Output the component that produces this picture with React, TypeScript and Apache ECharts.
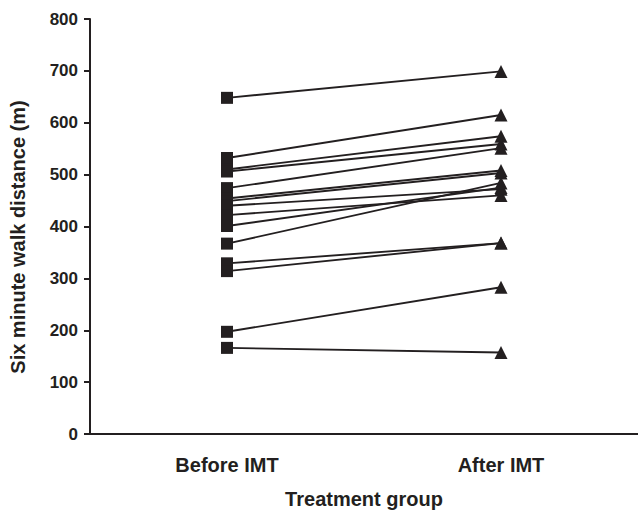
import React, { useEffect, useRef } from "react";
import * as echarts from "echarts";

const categories = ["Before IMT", "After IMT"];
const beforeIMT = [648, 532, 510, 506, 474, 454, 449, 440, 422, 401, 367, 329, 314, 197, 166];
const afterIMT = [699, 615, 574, 559, 551, 508, 503, 472, 460, 475, 484, 368, 368, 283, 157];
const yTicks = { min: 0, max: 800, interval: 100 };
const yTitle = "Six minute walk distance (m)";
const xTitle = "Treatment group";

const INK = "#231f20";
const FONT = "'Liberation Sans', Arial, Helvetica, sans-serif";

export default function App() {
  const ref = useRef<HTMLDivElement>(null);
  useEffect(() => {
    if (!ref.current) return;
    const chart = echarts.init(ref.current, undefined, { renderer: "svg" });
    const series = beforeIMT.map((b, i) => ({
      type: "line",
      data: [
        { value: b, symbol: "rect", symbolSize: 12 },
        { value: afterIMT[i], symbol: "triangle", symbolSize: 13 },
      ],
      lineStyle: { color: INK, width: 1.9 },
      itemStyle: { color: INK },
      showAllSymbol: true,
      z: 2,
    }));
    chart.setOption({
      animation: false,
      backgroundColor: "#ffffff",
      grid: { left: 90, right: 0, top: 19, bottom: 77, containLabel: false },
      xAxis: {
        type: "category",
        data: categories,
        boundaryGap: true,
        name: xTitle,
        nameLocation: "middle",
        nameGap: 55,
        nameTextStyle: { fontSize: 20, fontWeight: "bold", color: INK, fontFamily: FONT },
        axisLine: { lineStyle: { color: INK, width: 2 } },
        axisTick: { alignWithLabel: true, length: 6, lineStyle: { color: INK, width: 2 } },
        axisLabel: { fontSize: 20, fontWeight: "bold", color: INK, fontFamily: FONT, margin: 21 },
        splitLine: { show: false },
      },
      yAxis: {
        type: "value",
        min: yTicks.min,
        max: yTicks.max,
        interval: yTicks.interval,
        axisLine: { show: true, lineStyle: { color: INK, width: 2 } },
        axisTick: { show: true, length: 6, lineStyle: { color: INK, width: 2 } },
        axisLabel: { fontSize: 17, fontWeight: "bold", color: INK, fontFamily: FONT, margin: 12 },
        splitLine: { show: false },
      },
      graphic: [
        {
          type: "text",
          x: 18,
          y: 237,
          rotation: Math.PI / 2,
          style: {
            text: yTitle,
            fontSize: 20,
            fontWeight: "bold",
            fill: INK,
            fontFamily: FONT,
            align: "center",
            verticalAlign: "middle",
          },
        },
      ],
      series,
    });
    return () => chart.dispose();
  }, []);
  return (
    <div
      ref={ref}
      style={{ position: "absolute", left: 0, top: 0, width: 638, height: 514 }}
    />
  );
}
